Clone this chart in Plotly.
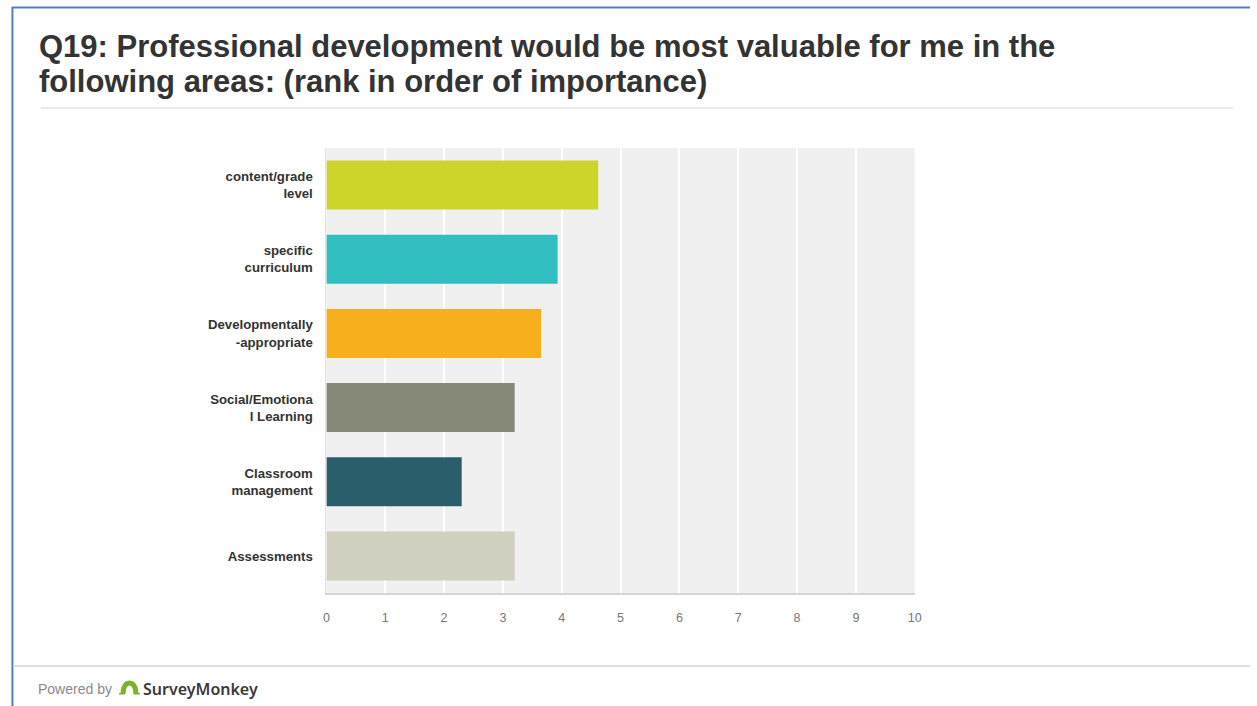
import plotly.graph_objects as go

# Survey results: average ranking score per professional development area
categories = [
    "content/grade<br>level",
    "specific<br>curriculum",
    "Developmentally<br>-appropriate",
    "Social/Emotiona<br>l Learning",
    "Classroom<br>management",
    "Assessments",
]
scores = [4.62, 3.93, 3.65, 3.20, 2.30, 3.20]
bar_colors = ["#cdd42a", "#31bec0", "#f8af1e", "#868878", "#2b5e6b", "#d0cfc0"]
x_ticks = list(range(0, 11))
title_lines = [
    "Q19: Professional development would be most valuable for me in the",
    "following areas: (rank in order of importance)",
]

W, H = 1257, 706
SANS = "Liberation Sans, Arial, sans-serif"


def px(x):
    return x / W


def py(y):
    return 1 - y / H


fig = go.Figure(
    go.Bar(
        x=scores,
        y=categories,
        orientation="h",
        marker=dict(color=bar_colors, line=dict(width=0)),
        hoverinfo="x+y",
    )
)

fig.update_layout(
    width=W,
    height=H,
    margin=dict(l=0, r=0, t=0, b=0),
    paper_bgcolor="white",
    plot_bgcolor="#f0f0f0",
    showlegend=False,
    bargap=0.34,
    xaxis=dict(
        domain=[px(326), px(919)],
        range=[0, 10],
        tickvals=x_ticks,
        ticktext=[str(v) for v in x_ticks],
        showgrid=True,
        gridcolor="#ffffff",
        gridwidth=2,
        zeroline=False,
        showline=True,
        linecolor="#d6d6d6",
        linewidth=2,
        ticks="",
        ticklabelstandoff=12,
        tickfont=dict(family=SANS, size=12.5, color="#777777"),
        fixedrange=True,
    ),
    yaxis=dict(
        domain=[py(593), py(148)],
        autorange="reversed",
        showgrid=False,
        zeroline=False,
        showline=True,
        linecolor="#e2e2e2",
        linewidth=1,
        ticks="",
        ticklabelstandoff=10,
        tickfont=dict(family=SANS, size=13.2, color="#333333", weight="bold"),
        fixedrange=True,
    ),
)

shapes = [
    # outer blue frame (top and left edges)
    dict(type="line", xref="paper", yref="paper", x0=px(9), x1=px(1257), y0=py(7.5), y1=py(7.5),
         line=dict(color="#4f81bd", width=2)),
    dict(type="line", xref="paper", yref="paper", x0=px(9.5), x1=px(9.5), y0=py(7), y1=py(706),
         line=dict(color="#4f81bd", width=2)),
    # rule under the question title
    dict(type="line", xref="paper", yref="paper", x0=px(38), x1=px(1240), y0=py(108), y1=py(108),
         line=dict(color="#e3e3e3", width=1.5)),
    # footer separator
    dict(type="line", xref="paper", yref="paper", x0=px(10), x1=px(1257), y0=py(666), y1=py(666),
         line=dict(color="#d0d3dc", width=1.5)),
    # SurveyMonkey arch logo
    dict(type="path", xref="paper", yref="paper",
         path=(f"M {px(121)},{py(692)} Q {px(122)},{py(683)} {px(127.5)},{py(683)} "
               f"Q {px(133)},{py(683)} {px(134)},{py(692)}"),
         line=dict(color="#7ab427", width=5)),
    dict(type="path", xref="paper", yref="paper",
         path=(f"M {px(117)},{py(694)} L {px(123)},{py(694)} L {px(123)},{py(690)} Z "
               f"M {px(132)},{py(694)} L {px(138)},{py(694)} L {px(132)},{py(690)} Z"),
         fillcolor="#7ab427", line=dict(color="#7ab427", width=1)),
]
fig.update_layout(shapes=shapes)

annotations = [
    dict(
        text=line,
        xref="paper", yref="paper", x=px(34), y=py(yc),
        xanchor="left", yanchor="middle", align="left", showarrow=False,
        font=dict(family=SANS, size=31, color="#333333", weight="bold"),
    )
    for line, yc in zip(title_lines, [46, 82])
]
annotations += [
    dict(
        text="Powered by",
        xref="paper", yref="paper", x=px(33), y=py(689),
        xanchor="left", yanchor="middle", showarrow=False,
        font=dict(family=SANS, size=14, color="#8a8a8a"),
    ),
    dict(
        text="SurveyMonkey",
        xref="paper", yref="paper", x=px(139), y=py(689),
        xanchor="left", yanchor="middle", showarrow=False,
        font=dict(family="Noto Sans, Liberation Sans, sans-serif", size=16, color="#3a3a3a", weight=600),
    ),
]
fig.update_layout(annotations=annotations)

fig.write_html(
    "out.html",
    post_script=(
        "document.body.style.margin='0';"
        "document.body.style.overflow='hidden';"
        "document.documentElement.style.overflow='hidden';"
    ),
)
